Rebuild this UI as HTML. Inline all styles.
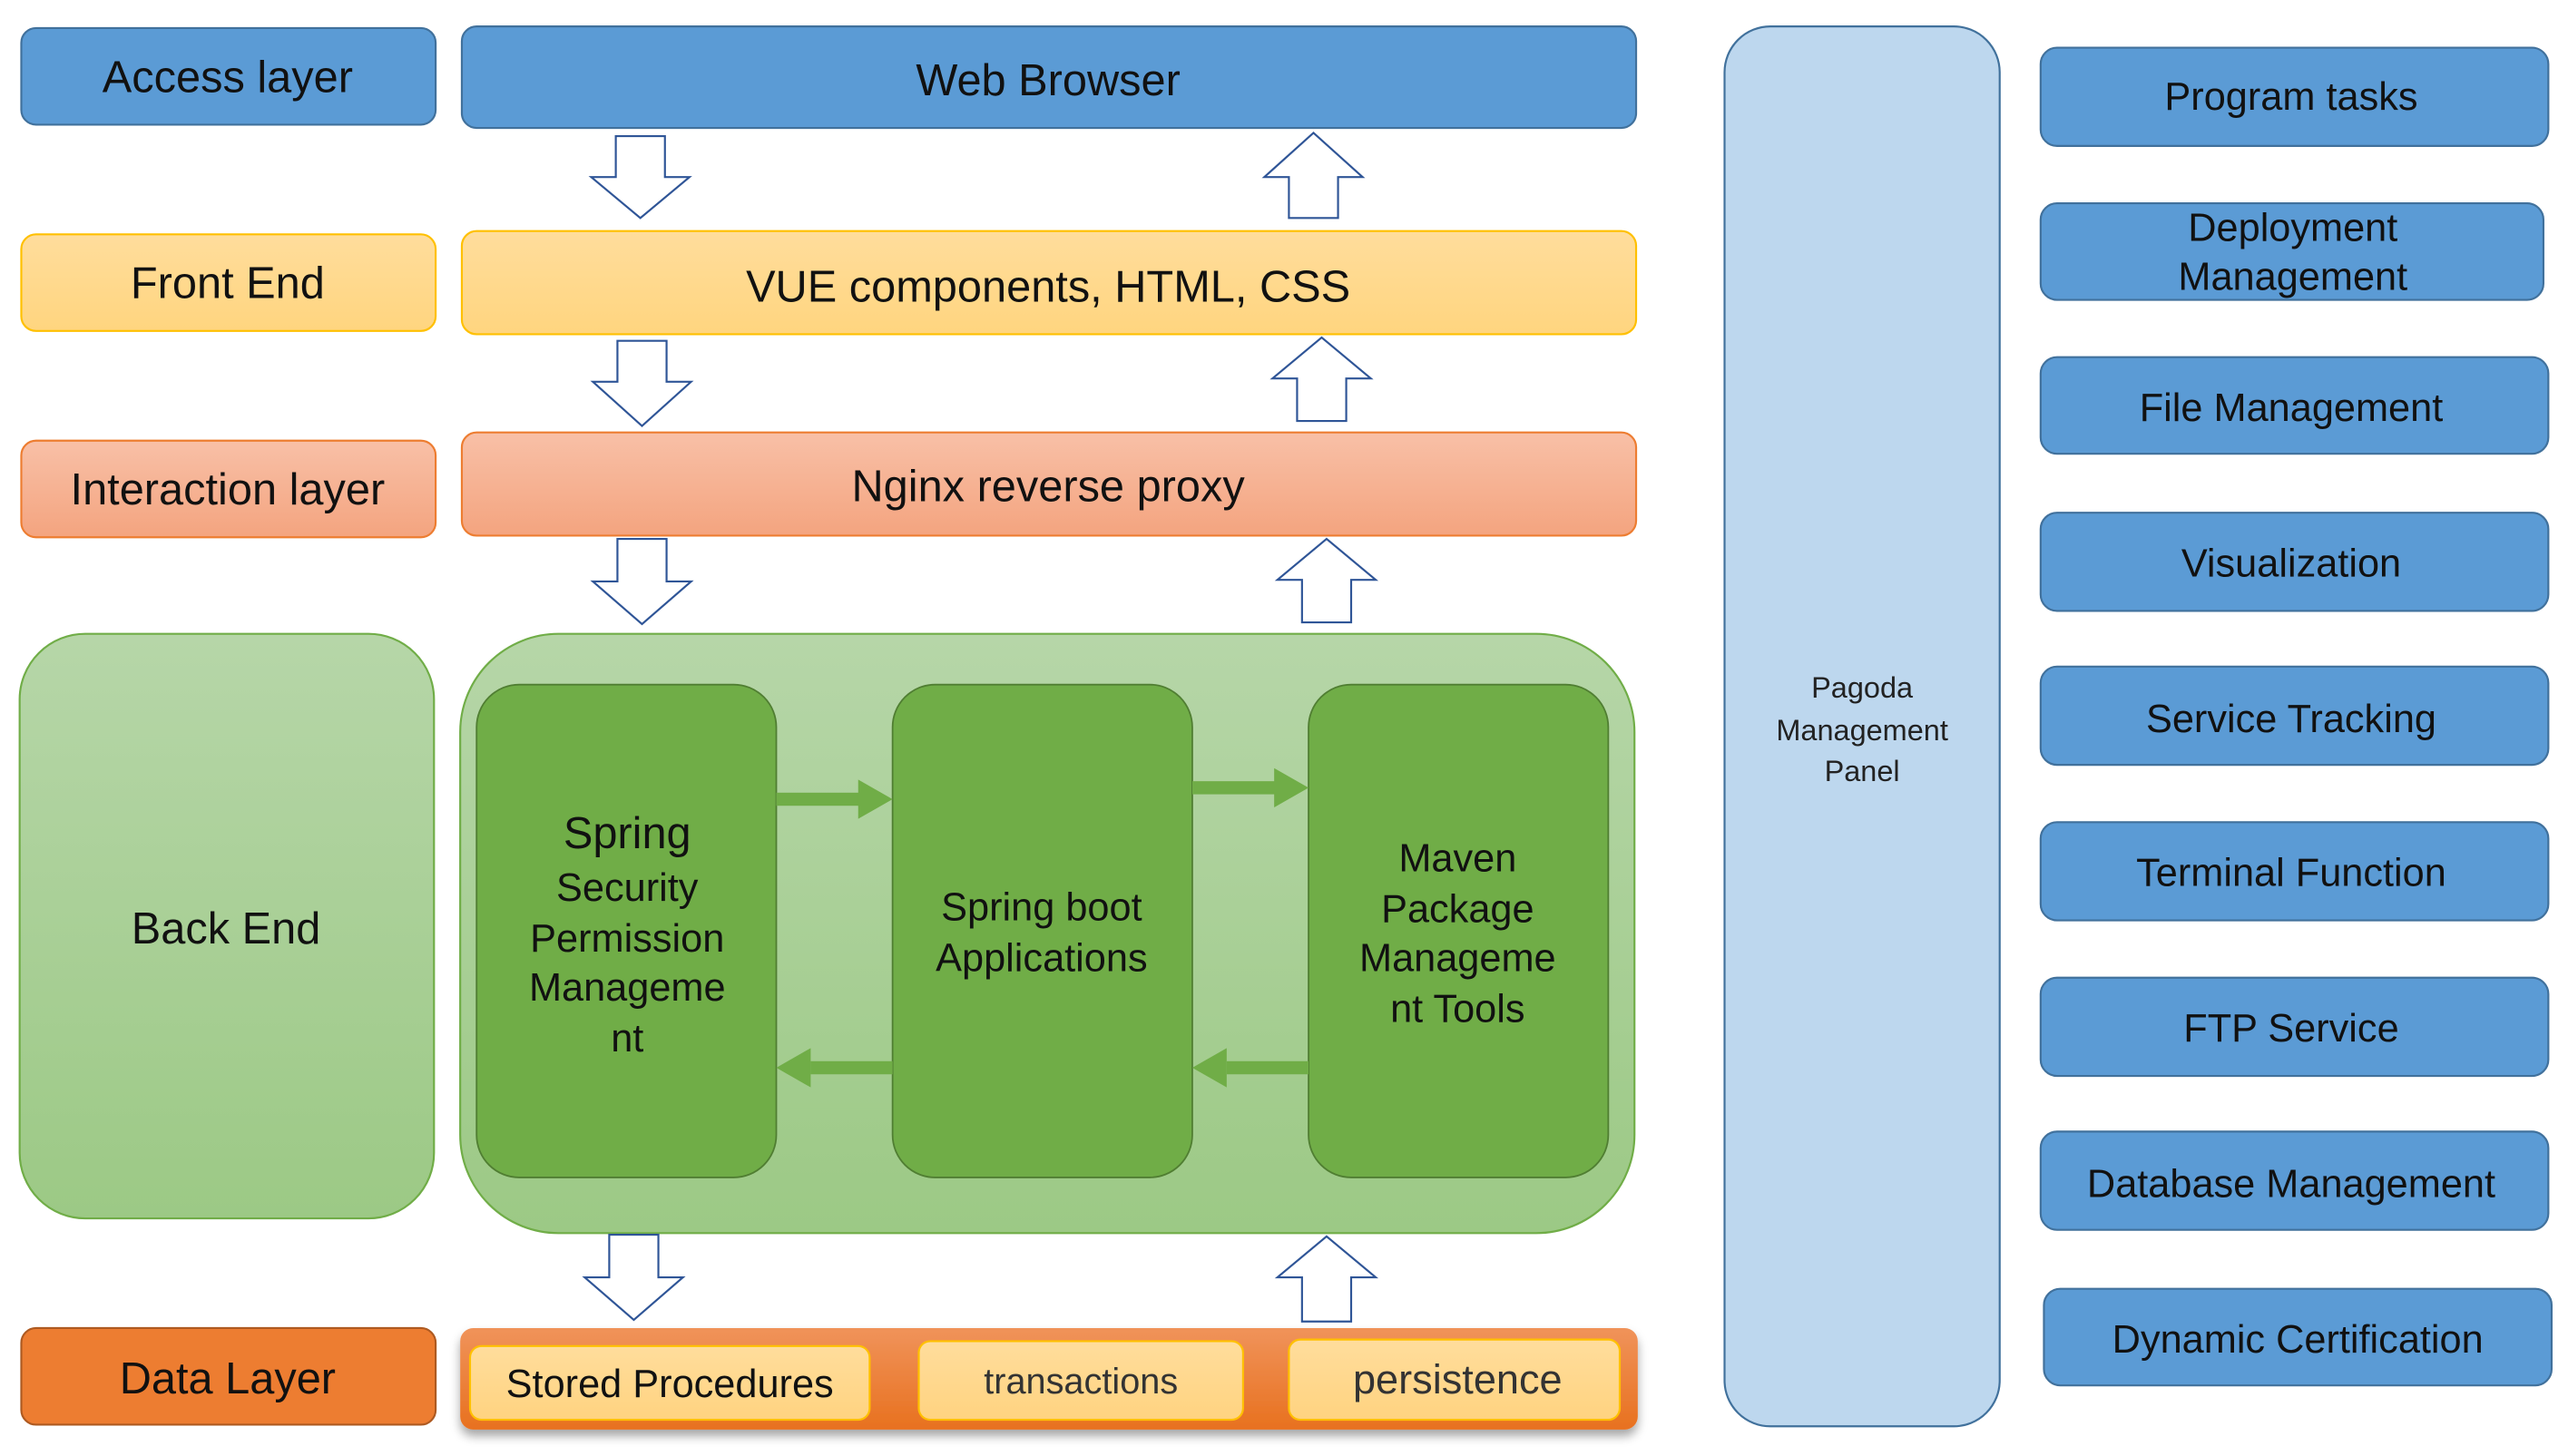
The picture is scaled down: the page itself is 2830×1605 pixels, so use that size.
<!DOCTYPE html>
<html><head><meta charset="utf-8"><style>html,body{margin:0;padding:0;background:#fff}svg{display:block}</style></head>
<body>
<svg width="2830" height="1605" viewBox="0 0 1568 889" xmlns="http://www.w3.org/2000/svg" font-family="'Liberation Sans Narrow','Liberation Sans',sans-serif">
<defs>
<linearGradient id="yel" x1="0" y1="0" x2="0" y2="1"><stop offset="0" stop-color="#FFDD9C"/><stop offset="1" stop-color="#FFD57F"/></linearGradient>
<linearGradient id="org" x1="0" y1="0" x2="0" y2="1"><stop offset="0" stop-color="#F8C0A7"/><stop offset="1" stop-color="#F4A47F"/></linearGradient>
<linearGradient id="grn" x1="0" y1="0" x2="0" y2="1"><stop offset="0" stop-color="#B6D6A8"/><stop offset="1" stop-color="#9CC985"/></linearGradient>
<linearGradient id="dat" x1="0" y1="0" x2="0" y2="1"><stop offset="0" stop-color="#F0935A"/><stop offset="1" stop-color="#E8711F"/></linearGradient>
<linearGradient id="cell" x1="0" y1="0" x2="0" y2="1"><stop offset="0" stop-color="#FFDD9C"/><stop offset="1" stop-color="#FFD380"/></linearGradient>
<filter id="sh" x="-5%" y="-20%" width="110%" height="160%"><feDropShadow dx="0" dy="4" stdDeviation="3" flood-color="#000" flood-opacity="0.35"/></filter>
</defs>

<!-- Left labels -->
<rect x="13" y="17" width="253" height="59" rx="9" fill="#5B9BD5" stroke="#41719C" stroke-width="1.2"/>
<text x="139" y="56" font-size="27" text-anchor="middle" fill="#111">Access layer</text>
<rect x="13" y="143" width="253" height="59" rx="9" fill="url(#yel)" stroke="#FFC000" stroke-width="1.2"/>
<text x="139" y="182" font-size="27" text-anchor="middle" fill="#111">Front End</text>
<rect x="13" y="269" width="253" height="59" rx="9" fill="url(#org)" stroke="#ED7D31" stroke-width="1.2"/>
<text x="139" y="308" font-size="27" text-anchor="middle" fill="#111">Interaction layer</text>
<rect x="12" y="387" width="253" height="357" rx="40" fill="url(#grn)" stroke="#70AD47" stroke-width="1.2"/>
<text x="138" y="576" font-size="27" text-anchor="middle" fill="#111">Back End</text>
<rect x="13" y="811" width="253" height="59" rx="9" fill="#ED7D31" stroke="#AE5A21" stroke-width="1.2"/>
<text x="139" y="851" font-size="27" text-anchor="middle" fill="#111">Data Layer</text>

<!-- Main column -->
<rect x="282" y="16" width="717" height="62" rx="9" fill="#5B9BD5" stroke="#41719C" stroke-width="1.2"/>
<text x="640" y="58" font-size="27" text-anchor="middle" fill="#111">Web Browser</text>
<rect x="282" y="141" width="717" height="63" rx="9" fill="url(#yel)" stroke="#FFC000" stroke-width="1.2"/>
<text x="640" y="184" font-size="27" text-anchor="middle" fill="#111">VUE components, HTML, CSS</text>
<rect x="282" y="264" width="717" height="63" rx="9" fill="url(#org)" stroke="#ED7D31" stroke-width="1.2"/>
<text x="640" y="306" font-size="27" text-anchor="middle" fill="#111">Nginx reverse proxy</text>

<!-- Back end container -->
<rect x="281" y="387" width="717" height="366" rx="60" fill="url(#grn)" stroke="#70AD47" stroke-width="1.2"/>
<rect x="291" y="418" width="183" height="301" rx="26" fill="#70AD47" stroke="#507E32" stroke-width="1"/>
<rect x="545" y="418" width="183" height="301" rx="26" fill="#70AD47" stroke="#507E32" stroke-width="1"/>
<rect x="799" y="418" width="183" height="301" rx="26" fill="#70AD47" stroke="#507E32" stroke-width="1"/>
<g font-size="24" text-anchor="middle" fill="#111">
<text x="383" y="518" font-size="27">Spring</text>
<text x="383" y="550">Security</text>
<text x="383" y="581">Permission</text>
<text x="383" y="611">Manageme</text>
<text x="383" y="642">nt</text>
<text x="636" y="562">Spring boot</text>
<text x="636" y="593">Applications</text>
<text x="890" y="532">Maven</text>
<text x="890" y="563">Package</text>
<text x="890" y="593">Manageme</text>
<text x="890" y="624">nt Tools</text>
</g>
<!-- green arrows -->
<g fill="#70AD47">
<rect x="474" y="484" width="52" height="8"/><polygon points="524,476 545,488 524,500"/>
<rect x="728" y="477" width="52" height="8"/><polygon points="778,469 799,481 778,493"/>
<rect x="495" y="648" width="50" height="8"/><polygon points="495,640 474,652 495,664"/>
<rect x="749" y="648" width="50" height="8"/><polygon points="749,640 728,652 749,664"/>
</g>

<!-- Data layer bar -->
<rect x="281" y="811" width="719" height="62" rx="8" fill="url(#dat)" filter="url(#sh)"/>
<rect x="287" y="822" width="244" height="45" rx="7" fill="url(#cell)" stroke="#FFC000" stroke-width="1.2"/>
<text x="409" y="853" font-size="24" text-anchor="middle" fill="#111">Stored Procedures</text>
<rect x="561" y="819" width="198" height="48" rx="7" fill="url(#cell)" stroke="#FFC000" stroke-width="1.2"/>
<text x="660" y="851" font-size="22" text-anchor="middle" fill="#333">transactions</text>
<rect x="787" y="818" width="202" height="49" rx="7" fill="url(#cell)" stroke="#FFC000" stroke-width="1.2"/>
<text x="890" y="851" font-size="25" text-anchor="middle" fill="#333">persistence</text>

<!-- Hollow block arrows -->
<g fill="#fff" stroke="#2F5597" stroke-width="1.2" stroke-linejoin="miter">
<polygon points="376,83 406,83 406,108 421,108 391,133 361,108 376,108"/>
<polygon points="787,133 817,133 817,108 832,108 802,81 772,108 787,108"/>
<polygon points="377,208 407,208 407,233 422,233 392,260 362,233 377,233"/>
<polygon points="792,257 822,257 822,231 837,231 807,206 777,231 792,231"/>
<polygon points="377,329 407,329 407,355 422,355 392,381 362,355 377,355"/>
<polygon points="795,380 825,380 825,354 840,354 810,329 780,354 795,354"/>
<polygon points="372,754 402,754 402,780 417,780 387,806 357,780 372,780"/>
<polygon points="795,807 825,807 825,780 840,780 810,755 780,780 795,780"/>
</g>

<!-- Pagoda panel -->
<rect x="1053" y="16" width="168" height="855" rx="28" fill="#BDD7EE" stroke="#41719C" stroke-width="1.2"/>
<g font-family="'Liberation Sans',sans-serif" font-size="18" text-anchor="middle" fill="#222">
<text x="1137" y="426">Pagoda</text>
<text x="1137" y="452">Management</text>
<text x="1137" y="477">Panel</text>
</g>

<!-- Right list -->
<g fill="#5B9BD5" stroke="#41719C" stroke-width="1.2">
<rect x="1246" y="29" width="310" height="60" rx="10"/>
<rect x="1246" y="124" width="307" height="59" rx="10"/>
<rect x="1246" y="218" width="310" height="59" rx="10"/>
<rect x="1246" y="313" width="310" height="60" rx="10"/>
<rect x="1246" y="407" width="310" height="60" rx="10"/>
<rect x="1246" y="502" width="310" height="60" rx="10"/>
<rect x="1246" y="597" width="310" height="60" rx="10"/>
<rect x="1246" y="691" width="310" height="60" rx="10"/>
<rect x="1248" y="787" width="310" height="59" rx="10"/>
</g>
<g font-size="24" text-anchor="middle" fill="#111">
<text x="1399" y="67">Program tasks</text>
<text x="1400" y="147">Deployment</text>
<text x="1400" y="177">Management</text>
<text x="1399" y="257">File Management</text>
<text x="1399" y="352">Visualization</text>
<text x="1399" y="447">Service Tracking</text>
<text x="1399" y="541">Terminal Function</text>
<text x="1399" y="636">FTP Service</text>
<text x="1399" y="731">Database Management</text>
<text x="1403" y="826">Dynamic Certification</text>
</g>
</svg>
</body></html>
